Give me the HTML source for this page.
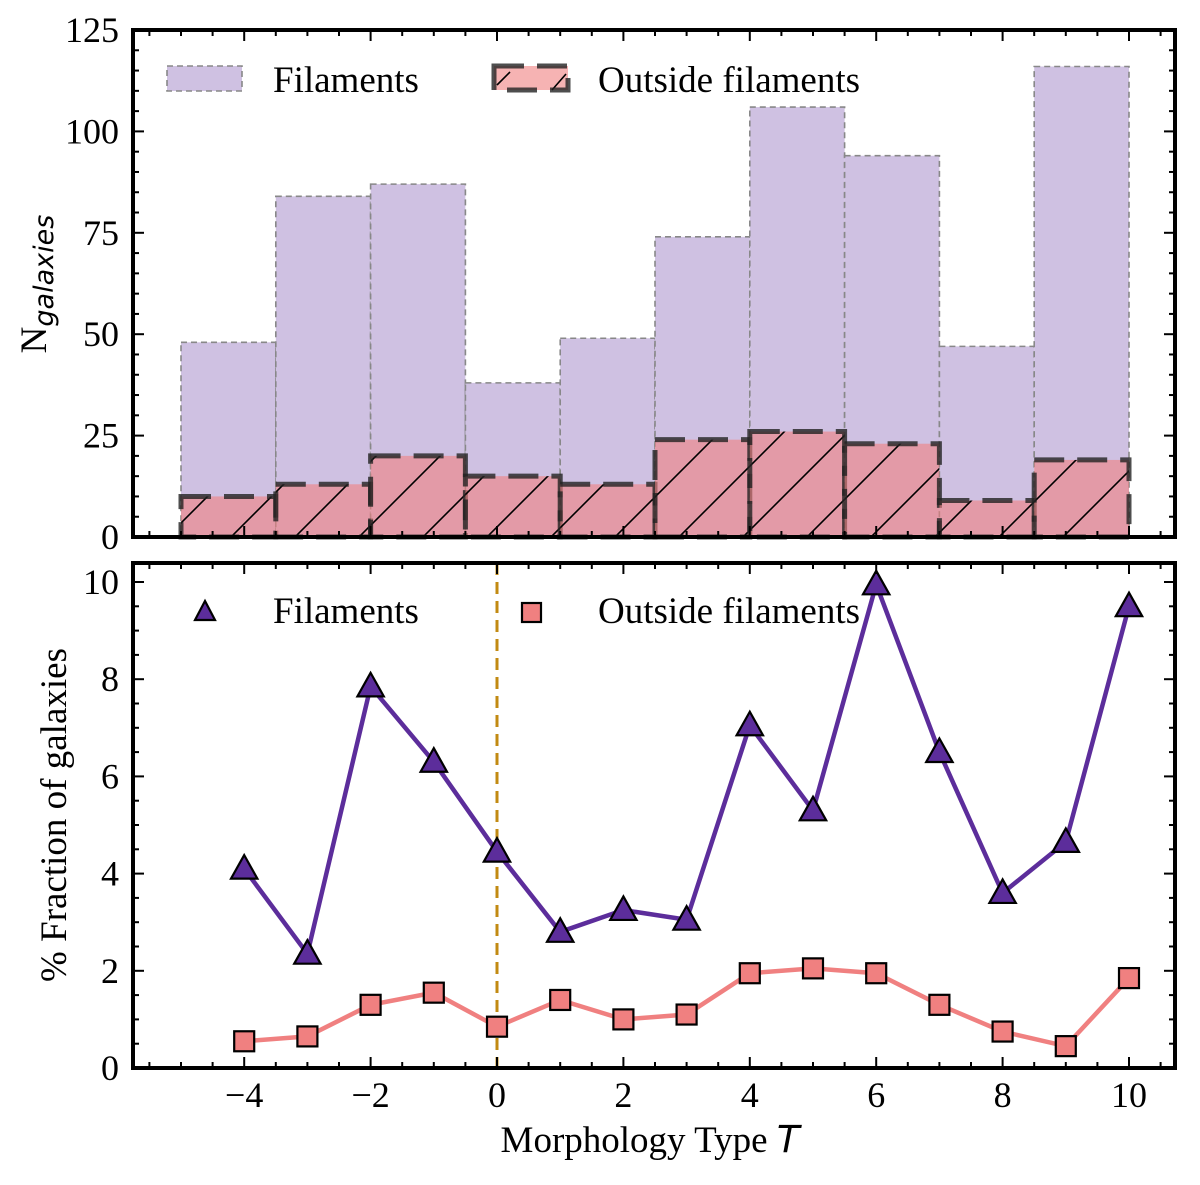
<!DOCTYPE html>
<html><head><meta charset="utf-8"><style>
body{margin:0;background:#fff}
svg text{font-family:"Liberation Serif",serif;fill:#000}
</style></head><body>
<svg id="chart" width="1200" height="1180" viewBox="0 0 1200 1180" xmlns="http://www.w3.org/2000/svg">
<defs>
<pattern id="hatch" patternUnits="userSpaceOnUse" width="64" height="64">
<path d="M-5,69 L69,-5 M-64,64 L64,-64 M59,69 L69,59" stroke="#000" stroke-width="1.6"/>
</pattern>
</defs>
<g id="topPanel"></g>
<g id="bottomPanel"></g>
</svg>
<script>
const binEdgesStart = [-5,-3.5,-2,-0.5,1,2.5,4,5.5,7,8.5];
const binWidth = 1.5;
const filamentCounts = [48,84,87,38,49,74,106,94,47,116];
const outsideCounts = [10,13,20,15,13,24,26,23,9,19];
const types = [-4,-3,-2,-1,0,1,2,3,4,5,6,7,8,9,10];
const filamentFrac = [4.1,2.35,7.85,6.3,4.45,2.8,3.25,3.05,7.05,5.3,9.95,6.5,3.6,4.65,9.5];
const outsideFrac = [0.55,0.65,1.3,1.55,0.85,1.4,1.0,1.1,1.95,2.05,1.95,1.3,0.75,0.45,1.85];
const xTicks = [-4,-2,0,2,4,6,8,10];
const xTickLabels = ["\u22124","\u22122","0","2","4","6","8","10"];
const topYTicks = [0,25,50,75,100,125];
const botYTicks = [0,2,4,6,8,10];

const NS="http://www.w3.org/2000/svg";
const L=133,R=1175;
const X=v=>497+63.2*v;
const T0=537,T1=30; const YT=v=>T0-v*(T0-T1)/125;
const B0=1068,B1=563; const YB=v=>B0-v*48.6;
function mk(p,tag,a){const e=document.createElementNS(NS,tag);for(const k in a)e.setAttribute(k,a[k]);p.appendChild(e);return e;}
const gTop=document.getElementById('topPanel'), gBot=document.getElementById('bottomPanel');

binEdgesStart.forEach((s,i)=>{
  const x0=X(s),x1=X(s+binWidth),y=YT(filamentCounts[i]);
  const r=mk(gTop,'rect',{x:x0,y:y,width:x1-x0,height:T0-y,fill:'#cfc1e2',stroke:'#888','stroke-width':1.6,'stroke-dasharray':'6,4'});
  
  
});
binEdgesStart.forEach((s,i)=>{
  const x0=X(s),x1=X(s+binWidth),y=YT(outsideCounts[i]);
  const g=mk(gTop,'g',{});
  
  
  mk(g,'rect',{x:x0,y:y,width:x1-x0,height:T0-y,fill:'#f08080','fill-opacity':0.6});
  mk(g,'rect',{x:x0,y:y,width:x1-x0,height:T0-y,fill:'url(#hatch)'});
  mk(g,'rect',{x:x0,y:y,width:x1-x0,height:T0-y,fill:'none',stroke:'#222','stroke-opacity':0.8,'stroke-width':5,'stroke-dasharray':'30,13'});
});

function axes(p,yTop,yBot,yticks,Y,minorY){
  for(let k=-11;k<=21;k++){
    const v=k/2;
    const major=xTicks.includes(v);const len=major?11:6;const x=X(v);
    mk(p,'line',{x1:x,x2:x,y1:yBot,y2:yBot-len,stroke:'#000','stroke-width':2});
    mk(p,'line',{x1:x,x2:x,y1:yTop,y2:yTop+len,stroke:'#000','stroke-width':2});
  }
  const maxT=yticks[yticks.length-1];
  for(let k=0;k*minorY<=maxT+0.4;k++){
    const v=k*minorY;
    const y=Y(v); if(y<yTop-1)continue;
    const major=yticks.some(t=>Math.abs(t-v)<1e-6);const len=major?11:6;
    mk(p,'line',{x1:L,x2:L+len,y1:y,y2:y,stroke:'#000','stroke-width':2});
    mk(p,'line',{x1:R,x2:R-len,y1:y,y2:y,stroke:'#000','stroke-width':2});
  }
  yticks.forEach(t=>{const e=mk(p,'text',{x:L-14,y:Y(t)+12,'text-anchor':'end','font-size':36});e.textContent=t;
    
    });
  const f=mk(p,'rect',{x:L,y:yTop,width:R-L,height:yBot-yTop,fill:'none',stroke:'#000','stroke-width':4});
  
  
}
axes(gTop,T1,T0,topYTicks,YT,5);

mk(gBot,'line',{x1:X(0),x2:X(0),y1:B1,y2:B0,stroke:'#c28a12','stroke-width':3,'stroke-dasharray':'12,7'});
function series(vals){
  return types.map((t,i)=>X(t)+','+YB(vals[i])).join(' ');
}
const pl1=mk(gBot,'polyline',{points:series(filamentFrac),fill:'none',stroke:'#5c2d9b','stroke-width':4.5});


const pl2=mk(gBot,'polyline',{points:series(outsideFrac),fill:'none',stroke:'#f08080','stroke-width':4.5});


function tri(p,x,y,s){return mk(p,'polygon',{points:`${x},${y-s*0.62} ${x-s*0.6},${y+s*0.45} ${x+s*0.6},${y+s*0.45}`,fill:'#5c2d9b',stroke:'#000','stroke-width':2.2});}
function sq(p,x,y,s){return mk(p,'rect',{x:x-s/2,y:y-s/2,width:s,height:s,fill:'#f08080',stroke:'#000','stroke-width':2.2});}
types.forEach((t,i)=>{const e=tri(gBot,X(t),YB(filamentFrac[i]),22);
  
  });
types.forEach((t,i)=>{const e=sq(gBot,X(t),YB(outsideFrac[i]),20);
  
  });
axes(gBot,B1,B0,botYTicks,YB,0.5);
xTicks.forEach((t,i)=>{const e=mk(gBot,'text',{x:X(t),y:1107,'text-anchor':'middle','font-size':36});e.textContent=xTickLabels[i];
  
  });
</script>
<svg style="position:absolute;left:0;top:0" width="1200" height="1180" xmlns="http://www.w3.org/2000/svg">
<g>
<rect x="167" y="66" width="75" height="25" fill="#cfc1e2" stroke="#888" stroke-width="1.6" stroke-dasharray="6,4"/>
<text x="273" y="92" font-size="37" font-family="Liberation Serif, serif">Filaments</text>
<rect x="494" y="66" width="74" height="24" fill="#f08080" fill-opacity="0.6"/>
<path d="M497,85 L510,72 M552,90 L566,74" stroke="#000" stroke-width="1.6"/>
<rect x="494" y="66" width="74" height="24" fill="none" stroke="#222" stroke-opacity="0.8" stroke-width="5" stroke-dasharray="30,13"/>
<text x="598" y="92" font-size="37" font-family="Liberation Serif, serif">Outside filaments</text>
</g>
<g>
<polygon points="205,601 195,620 215,620" fill="#5c2d9b" stroke="#000" stroke-width="2.2"/>
<text x="273" y="623" font-size="37" font-family="Liberation Serif, serif">Filaments</text>
<rect x="522" y="603" width="19" height="19" fill="#f08080" stroke="#000" stroke-width="2.2"/>
<text x="598" y="623" font-size="37" font-family="Liberation Serif, serif">Outside filaments</text>
</g>
<text transform="translate(46,284) rotate(-90)" text-anchor="middle" font-size="37" font-family="Liberation Serif, serif">N<tspan font-family="DejaVu Sans, sans-serif" font-style="italic" font-size="27" dy="7">galaxies</tspan></text>
<text transform="translate(66,815) rotate(-90)" text-anchor="middle" font-size="37" font-family="Liberation Serif, serif">% Fraction of galaxies</text>
<text x="650" y="1152" text-anchor="middle" font-size="37" font-family="Liberation Serif, serif">Morphology Type <tspan font-family="DejaVu Sans, sans-serif" font-style="italic">T</tspan></text>
</svg>
</body></html>
